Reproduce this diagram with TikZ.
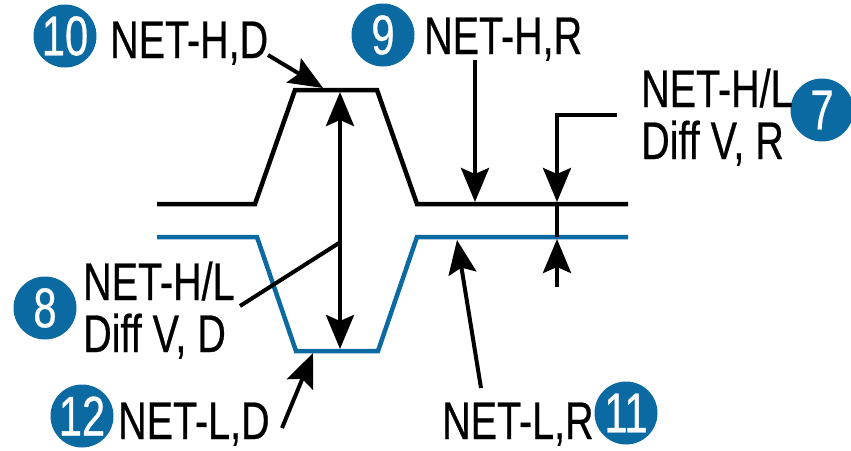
\documentclass[tikz,border=0pt]{standalone}
\usepackage{fontspec}
\setmainfont{Liberation Sans}[FakeStretch=0.745,FakeBold=0.5]
\usetikzlibrary{arrows.meta}
\definecolor{canblue}{RGB}{12,106,163}
\begin{document}
\begin{tikzpicture}[x=1pt,y=-1pt,
  >={Stealth[length=34pt,width=28pt,inset=6pt]},
  sig/.style={line width=4.5pt,line join=miter},
  arr/.style={line width=4pt},
  badge/.style={circle,fill=canblue,text=white,minimum size=63pt,inner sep=0pt,font=\fontsize{56}{58}\selectfont},
  lbl/.style={anchor=base west,inner sep=0pt,font=\fontsize{53}{56}\selectfont}]
\useasboundingbox (0,0) rectangle (851,450);

% signals
\draw[sig] (157,204) -- (255,204) -- (295,90) -- (377,90) -- (417,204) -- (628,204);
\draw[sig,canblue] (157,237) -- (257,237) -- (296,351) -- (378,351) -- (417,237) -- (628,237);

% badges
\node[badge] (c10) at (65,36) {10};
\node[badge] (c9) at (383,35) {9};
\node[badge] (c7) at (822,110) {7};
\node[badge] (c8) at (45,308) {8};
\node[badge] (c12) at (82,416) {12};
\node[badge] (c11) at (626,413) {11};

% labels
\node[lbl] (t10) at (110,58) {NET-H,D};
\node[lbl] (t9) at (424,54) {NET-H,R};
\node[lbl] (t7a) at (641,107) {NET-H/L};
\node[lbl] (t7b) at (641,159) {Diff V, R};
\node[lbl] (t8a) at (83,300) {NET-H/L};
\node[lbl] (t8b) at (83,352) {Diff V, D};
\node[lbl] (t12) at (118,439) {NET-L,D};
\node[lbl] (t11) at (442,439) {NET-L,R};

% reference points
\coordinate (hd) at (323,88);
\coordinate (hdstart) at (268,55);
\coordinate (dtop) at (340,92);
\coordinate (dbot) at (340,349);
\coordinate (dmid) at (339,243);
\coordinate (l8end) at (240,306);
\coordinate (hr) at (475,202);
\coordinate (hrstart) at (475,60);
\coordinate (k7a) at (617,115);
\coordinate (k7b) at (557,115);
\coordinate (k7h) at (557,202);
\coordinate (k7l) at (557,239);
\coordinate (k7s) at (557,287);
\coordinate (k7m) at (557,204);
\coordinate (k7n) at (557,237);
\coordinate (lr) at (457,240);
\coordinate (lrstart) at (481,388);
\coordinate (ld) at (313,353);
\coordinate (ldstart) at (282,428);

% connectors
\draw[arr,->] (hdstart) -- (hd);
\draw[arr,<->] (dbot) -- (dtop);
\draw[arr] (l8end) -- (dmid);
\draw[arr,->] (hrstart) -- (hr);
\draw[arr,->] (k7a) -- (k7b) -- (k7h);
\draw[arr] (k7m) -- (k7n);
\draw[arr,->] (k7s) -- (k7l);
\draw[arr,->] (lrstart) -- (lr);
\draw[arr,->] (ldstart) -- (ld);
\end{tikzpicture}
\end{document}
